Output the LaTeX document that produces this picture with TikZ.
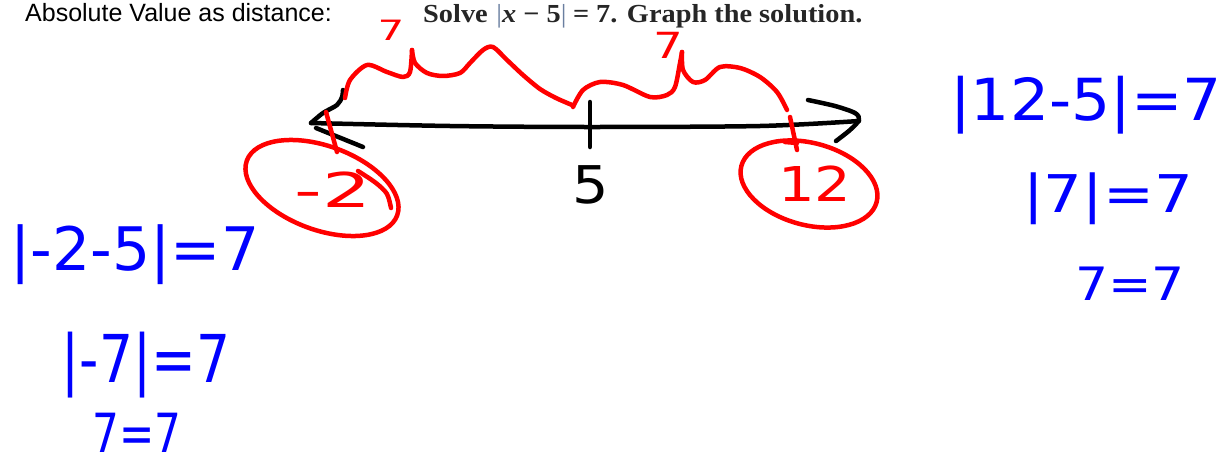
\documentclass[tikz,border=0pt]{standalone}
\usepackage{fontspec}
\setmainfont{Liberation Serif}
\newfontfamily\arialf{Liberation Sans}
\newfontfamily\handf{DejaVu Sans}
\definecolor{penred}{HTML}{FF0000}
\definecolor{penblue}{HTML}{0000FF}
\definecolor{barc}{HTML}{6A7FA0}
\definecolor{titlec}{HTML}{262626}
\newcommand\hsz[1]{\fontsize{#1}{#1}\selectfont}
\tikzset{
  hand/.style={inner sep=0pt, anchor=base, font=\handf},
  bluetxt/.style={hand, text=penblue},
  redtxt/.style={hand, text=penred},
  redpen/.style={draw=penred, line width=4.5pt, line cap=round, line join=round},
  blackpen/.style={draw=black, line width=4.5pt, line cap=round, line join=round},
}
\begin{document}
\begin{tikzpicture}[x=1pt,y=-1pt]
\useasboundingbox[fill=white] (0,0) rectangle (1225,466);

% titles
\node[anchor=base west, inner sep=0pt, font=\arialf\hsz{25}] (ttl) at (25,21)
  {Absolute Value as distance:};
\node[anchor=base west, inner sep=0pt, text=titlec, font=\bfseries\hsz{26}] (prob) at (423,22)
  {\scalebox{1.09}[1]{Solve\hspace{8pt}\textcolor{barc}{\mdseries|}\textit{x} − 5\textcolor{barc}{\mdseries|}\hspace{6pt}= 7. Graph the solution.}};

% number line
\coordinate (nlL) at (311,123);
\coordinate (nlR) at (859,121);
\draw[blackpen] plot[smooth] coordinates {(nlL) (450,126) (590,127) (760,126) (nlR)};
\draw[blackpen] plot[smooth] coordinates {(nlL) (323,113) (337,105) (342,97) (343,90)};
\draw[blackpen] (316,128) -- (363,147);
\draw[blackpen] plot[smooth] coordinates {(808,100) (835,106) (855,113) (859,120) (850,130) (836,141)};
\coordinate (tkT) at (590,102);
\coordinate (tkB) at (590,147);
\draw[blackpen] (tkT) -- (tkB);
\node[hand, font=\handf\hsz{52}] (five) at (591,203) {\scalebox{1.1}[1]{5}};

% red marks at -2 and 12
\coordinate (mLT) at (326,112);
\coordinate (mLB) at (337,152);
\draw[redpen] (mLT) -- (mLB);
\coordinate (mRT) at (790,117);
\coordinate (mRB) at (797,150);
\draw[redpen] (mRT) -- (mRB);
\draw[redpen] (785,142) -- (797,143);

% ellipses
\draw[redpen, rotate around={-20:(322,188)}] (322,188) ellipse [x radius=80, y radius=42];
\draw[redpen] plot[smooth] coordinates {(358,171) (376,183) (387,194) (391,208)};
\draw[redpen, rotate around={-15:(809,184)}] (809,184) ellipse [x radius=70, y radius=41];
\node[redtxt, font=\handf\hsz{48}] (mtwo) at (333,207) {\scalebox{1.6}[1]{-2}};
\node[redtxt, font=\handf\hsz{48}] (twelve) at (815,201) {\scalebox{1.2}[1]{12}};

% braces
\draw[redpen] plot[smooth] coordinates {(345,98) (350,80) (367,65) (387,72) (403,77) (410,72) (412,50)};
\draw[redpen] plot[smooth] coordinates {(412,50) (415,63) (427,73) (443,76) (460,73) (470,63) (483,50) (493,47) (507,60) (523,75) (540,89) (556,98) (572,105)};
\draw[redpen] plot[smooth] coordinates {(573,107) (583,90) (600,82) (623,85) (650,97) (667,95) (675,87) (680,63) (682,52)};
\draw[redpen] plot[smooth] coordinates {(682,52) (683,70) (693,82) (705,80) (720,67) (740,68) (760,77) (777,92) (787,110)};
\node[redtxt, font=\handf\hsz{28}] (sevL) at (391,40) {\scalebox{1.5}[1]{7}};
\node[redtxt, font=\handf\hsz{36}] (sevR) at (668,58) {\scalebox{1.3}[1]{7}};

% blue work, left
\node[bluetxt, font=\handf\hsz{60}] (l1) at (135,270) {|-2-5|=7};
\node[bluetxt, font=\handf\hsz{66}] (l2) at (146,382) {\scalebox{0.81}[1]{|-7|=7}};
\node[bluetxt, font=\handf\hsz{54}] (l3) at (137,452) {\scalebox{0.78}[1]{7=7}};

% blue work, right
\node[bluetxt, font=\handf\hsz{58}] (r1) at (1086,120) {\scalebox{1.06}[1]{|12-5|=7}};
\node[bluetxt, font=\handf\hsz{52}] (r2) at (1108,212) {\scalebox{1.17}[1]{|7|=7}};
\node[bluetxt, font=\handf\hsz{46}] (r3) at (1130,300) {\scalebox{1.13}[1]{7=7}};
\end{tikzpicture}
\end{document}
